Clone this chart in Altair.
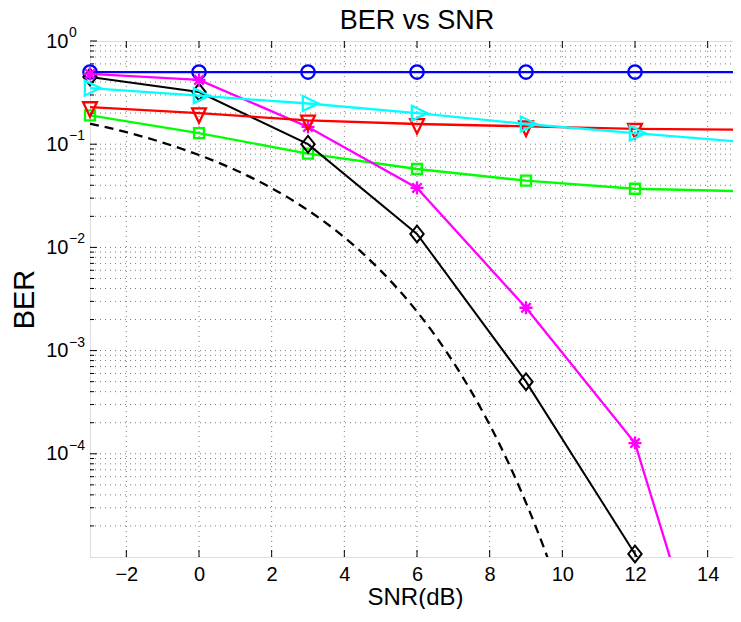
import altair as alt
import pandas as pd

# ---------------- data ----------------
SNR = [-3, 0, 3, 6, 9, 12, 15]
BER_BLUE = [0.5, 0.5, 0.5, 0.5, 0.5, 0.5, 0.5]
BER_GREEN = [0.19, 0.128, 0.081, 0.0575, 0.0443, 0.037, 0.035]
BER_RED = [0.229, 0.2, 0.17, 0.157, 0.149, 0.141, 0.138]
BER_CYAN = [0.35, 0.295, 0.248, 0.2, 0.157, 0.128, 0.105]
BER_BLACK = [0.448, 0.32, 0.1, 0.0135, 0.0005, 1.07e-5, 2.3e-7]
BER_MAGENTA = [0.48, 0.42, 0.147, 0.0377, 0.0026, 1.27e-4, 4.5e-8]

THEORY_SNR = [-3, -2.5, -2, -1.5, -1, -0.5, 0, 0.5, 1, 1.5, 2, 2.5, 3, 3.5,
              4, 4.5, 5, 5.5, 6, 6.5, 7, 7.5, 8, 8.5, 9, 9.5, 10]
THEORY_BER = [0.158, 0.1445, 0.1306, 0.117, 0.1038, 0.0909, 0.0786, 0.0671,
              0.0563, 0.0464, 0.0375, 0.0297, 0.0229, 0.0172, 0.0125, 0.0088,
              0.00595, 0.00386, 0.00239, 0.0014, 0.000773, 0.000398, 0.000191,
              8.4e-5, 3.36e-5, 1.21e-5, 3.87e-6]

X_TICKS = [-2, 0, 2, 4, 6, 8, 10, 12, 14]
Y_TICKS = [1, 0.1, 0.01, 0.001, 0.0001]
Y_TICK_BASE = "10"
Y_TICK_EXPONENTS = ["0", "\u22121", "\u22122", "\u22123", "\u22124"]
Y_MINOR = [m * 10.0 ** e for e in range(-5, 0) for m in range(2, 10)]
Y_GRID = Y_MINOR + [0.1, 0.01, 0.001, 0.0001]

TITLE = "BER vs SNR"
X_TITLE = "SNR(dB)"
Y_TITLE = "BER"

# ---------------- layout / style ----------------
W, H = 654, 516
FONT = "Liberation Sans"
GRID_COLOR = "#7a7a7a"

xs = alt.Scale(domain=[-3, 15], nice=False, zero=False)
ys = alt.Scale(type="log", domain=[1e-5, 1], nice=False)

X_AXIS = alt.Axis(values=X_TICKS, grid=False, ticks=False, tickSize=0, domain=False,
                  labelFont=FONT, labelFontSize=20, labelColor="black", labelPadding=7,
                  title=X_TITLE, titleFont=FONT, titleFontSize=24, titleFontWeight="normal",
                  titleColor="black", titleX=325, titleY=47, titleBaseline="alphabetic",
                  titleAlign="center")
Y_AXIS = alt.Axis(values=Y_TICKS, grid=False, ticks=False, tickSize=0, domain=False,
                  labelFont=FONT, labelFontSize=20, labelColor="black", labelPadding=22,
                  labelExpr="'" + Y_TICK_BASE + "'",
                  title=Y_TITLE, titleFont=FONT, titleFontSize=29, titleFontWeight="normal",
                  titleColor="black", titleAngle=-90, titleX=-57, titleY=258,
                  titleBaseline="alphabetic", titleAlign="center")

layers = []

# grid: vertical dotted
vgrid = alt.Chart(pd.DataFrame({"v": X_TICKS})).mark_rule(
    color=GRID_COLOR, strokeWidth=1, strokeDash=[1, 4]
).encode(x=alt.X("v:Q", scale=xs, axis=X_AXIS), y=alt.value(0), y2=alt.value(H))
layers.append(vgrid)

# grid: horizontal dotted
hgrid = alt.Chart(pd.DataFrame({"v": Y_GRID})).mark_rule(
    color=GRID_COLOR, strokeWidth=1, strokeDash=[1, 4]
).encode(y=alt.Y("v:Q", scale=ys, axis=Y_AXIS), x=alt.value(0), x2=alt.value(W))
layers.append(hgrid)

# tick marks (inside, MATLAB style)
xt = pd.DataFrame({"v": X_TICKS})
layers.append(alt.Chart(xt).mark_rule(color="black").encode(
    x=alt.X("v:Q", scale=xs, axis=X_AXIS), y=alt.value(H), y2=alt.value(H - 7)))
layers.append(alt.Chart(xt).mark_rule(color="black").encode(
    x=alt.X("v:Q", scale=xs, axis=X_AXIS), y=alt.value(0), y2=alt.value(7)))
yt = pd.DataFrame({"v": Y_TICKS, "e": Y_TICK_EXPONENTS})
layers.append(alt.Chart(yt).mark_rule(color="black").encode(
    y=alt.Y("v:Q", scale=ys, axis=Y_AXIS), x=alt.value(0), x2=alt.value(7)))
ym = pd.DataFrame({"v": Y_MINOR})
layers.append(alt.Chart(ym).mark_rule(color="black").encode(
    y=alt.Y("v:Q", scale=ys, axis=Y_AXIS), x=alt.value(0), x2=alt.value(4)))

# exponent of the y tick labels (superscript)
layers.append(alt.Chart(yt).mark_text(
    align="left", baseline="middle", font=FONT, fontSize=14, color="black", dx=0, dy=-8
).encode(y=alt.Y("v:Q", scale=ys, axis=Y_AXIS), x=alt.value(-21), text="e:N"))

# chart title as a text mark above the plot area
layers.append(alt.Chart(pd.DataFrame({"t": [TITLE]})).mark_text(
    align="center", baseline="alphabetic", font=FONT, fontSize=27, color="black"
).encode(x=alt.value(W / 2), y=alt.value(-12), text="t:N"))

# theoretical dashed curve
theory = pd.DataFrame({"snr": THEORY_SNR, "ber": THEORY_BER})
layers.append(alt.Chart(theory).mark_line(
    color="black", strokeWidth=2.3, strokeDash=[9, 6], clip=True, interpolate="monotone"
).encode(x=alt.X("snr:Q", scale=xs, axis=X_AXIS), y=alt.Y("ber:Q", scale=ys, axis=Y_AXIS)))

STAR = "M-1,0L1,0M0,-1L0,1M-0.72,-0.72L0.72,0.72M-0.72,0.72L0.72,-0.72"
DIAMOND = "M0,-1L0.8,0L0,1L-0.8,0Z"
TRI_DOWN = "M-1,-0.7L1,-0.7L0,1.4Z"
TRI_RIGHT = "M-0.7,-1L-0.7,1L1.4,0Z"

series = [
    (BER_BLUE, "#0000ff", "circle", 180, 2.3),
    (BER_GREEN, "#00ff00", "square", 100, 2.3),
    (BER_BLACK, "#000000", DIAMOND, 280, 2.0),
    (BER_MAGENTA, "#ff00ff", STAR, 170, 2.3),
    (BER_RED, "#ff0000", TRI_DOWN, 190, 2.3),
    (BER_CYAN, "#00ffff", TRI_RIGHT, 220, 2.3),
]

for vals, col, shape, size, lw in series:
    df = pd.DataFrame({"snr": SNR, "ber": vals})
    layers.append(alt.Chart(df).mark_line(color=col, strokeWidth=lw, clip=True).encode(
        x=alt.X("snr:Q", scale=xs, axis=X_AXIS), y=alt.Y("ber:Q", scale=ys, axis=Y_AXIS)))
    dfp = df[df["ber"] >= 1e-5]
    layers.append(alt.Chart(dfp).mark_point(
        shape=shape, size=size, filled=False, color=col, strokeWidth=lw, opacity=1
    ).encode(x=alt.X("snr:Q", scale=xs, axis=X_AXIS), y=alt.Y("ber:Q", scale=ys, axis=Y_AXIS)))

chart = alt.layer(*layers).properties(
    width=W, height=H,
    autosize=alt.AutoSizeParams(type="none"),
    padding={"left": 82, "top": 33, "right": -11, "bottom": 52},
).configure_view(stroke="black", strokeWidth=1).configure(background="white")

chart.save("out.html", embed_options={"renderer": "svg", "actions": False})
